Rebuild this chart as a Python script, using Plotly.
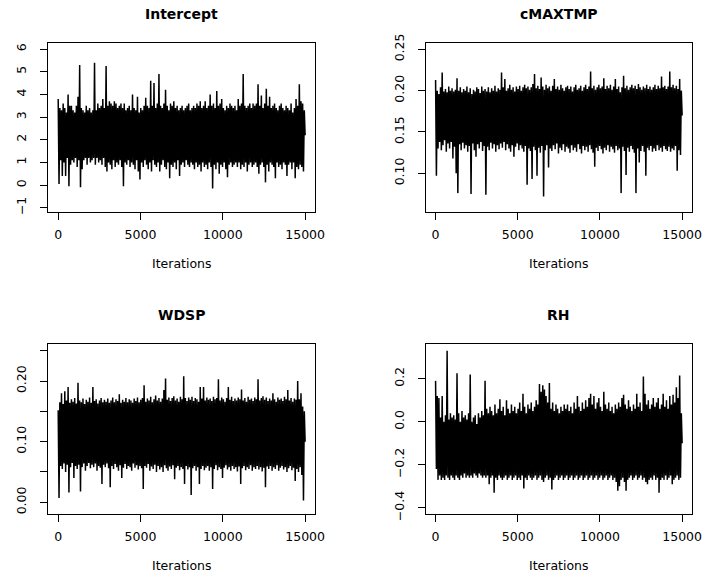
import numpy as np
import plotly.graph_objects as go

# ---------------- data (thinned to 300 draws) ----------------
titles = ["Intercept", "cMAXTMP", "WDSP", "RH"]
x_label = "Iterations"
n_iter = 15000
x_ticks = [0, 5000, 10000, 15000]

intercept = [
    3.8, 0.05, 3.4, 1.1, 3.3, 0.4, 3.6, 1.0, 3.4, 0.4, 3.2, 1.2, 4.0, -0.05, 3.5, 0.9, 3.5, 1.1, 3.3, 1.0,
    3.2, 1.2, 3.5, 0.8, 3.9, 1.1, 5.3, -0.1, 3.4, 0.7, 3.3, 1.1, 3.2, 1.2, 3.5, 0.9, 3.3, 1.2, 3.4, 1.0,
    3.2, 1.1, 3.3, 1.2, 5.4, 0.9, 3.3, 1.2, 3.6, 1.0, 3.4, 1.1, 3.5, 0.9, 3.8, 1.2, 3.4, 0.8, 5.25, 0.6,
    3.5, 1.0, 3.7, 0.9, 3.6, 0.7, 3.5, 1.1, 3.7, 0.8, 3.6, 1.0, 3.4, 0.9, 3.5, 1.1, 3.6, 0.8, 3.4, -0.05,
    3.6, 1.0, 3.3, 0.9, 3.4, 1.1, 3.5, 0.8, 3.3, 1.0, 4.0, 0.9, 3.4, 0.7, 3.3, 1.1, 3.9, 0.6, 3.2, 0.25,
    3.4, 1.0, 3.3, 0.8, 3.5, 1.1, 3.85, 0.9, 3.5, 0.7, 3.4, 1.0, 4.6, 0.6, 3.5, 1.1, 4.5, 0.9, 3.4, 0.8,
    3.6, 1.0, 4.9, 0.6, 3.5, 0.9, 3.4, 1.1, 3.6, 0.8, 4.2, 0.7, 3.5, 1.0, 3.3, 0.3, 3.6, 0.9, 3.5, 0.8,
    3.7, 1.0, 3.4, 0.7, 3.5, 1.1, 3.3, 0.4, 3.4, 0.9, 3.5, 1.0, 3.3, 0.8, 3.4, 1.1, 3.5, 0.9, 3.6, 0.8,
    3.3, 1.0, 3.4, 0.9, 3.5, 0.7, 3.4, 1.0, 3.6, 0.8, 3.5, 0.9, 3.7, 0.6, 3.4, 1.0, 3.5, 0.8, 3.7, 0.9,
    3.4, 0.7, 3.5, 1.0, 4.0, 0.8, 3.5, -0.15, 3.6, 0.9, 3.4, 0.7, 4.15, 1.0, 3.5, 0.5, 3.6, 0.9, 3.8, 0.8,
    3.4, 1.0, 3.3, 0.7, 3.5, 0.35, 3.4, 0.9, 3.6, 1.0, 3.5, 0.8, 3.4, 0.9, 3.5, 1.0, 3.3, 0.8, 3.8, 1.0,
    3.5, 0.7, 3.6, 0.9, 4.9, 0.8, 3.5, 1.0, 3.4, 0.6, 3.5, 0.9, 3.6, 1.0, 3.4, 0.8, 3.6, 0.9, 3.5, 1.0,
    3.6, 0.8, 4.45, 0.5, 3.5, 0.9, 3.95, 1.0, 3.4, 0.8, 3.6, 0.12, 4.25, 0.9, 3.5, 0.6, 3.9, 1.0, 3.4, 0.9,
    3.5, 0.8, 3.6, 0.3, 3.4, 1.0, 3.3, 0.8, 3.5, 0.9, 3.6, 0.7, 3.4, 1.0, 3.3, 0.9, 3.5, 0.4, 3.4, 0.9,
    3.3, 1.0, 3.6, 0.7, 3.2, 1.0, 3.4, 0.3, 3.8, 0.8, 3.5, 0.7, 4.45, 0.9, 3.7, 0.8, 3.6, 0.6, 3.3, 2.2,
]

cmaxtmp = [
    .213, .097, .200, .130, .196, .138, .204, .128, .222, .134, .199, .140, .202, .126, .198, .136, .205, .130, .200, .138,
    .203, .118, .199, .132, .201, .100, .215, .076, .200, .135, .204, .128, .198, .137, .202, .130, .200, .134, .205, .126,
    .198, .133, .203, .075, .196, .136, .201, .128, .199, .120, .204, .135, .202, .130, .197, .138, .205, .127, .200, .133,
    .202, .074, .199, .132, .204, .128, .198, .137, .203, .130, .200, .135, .206, .126, .199, .134, .203, .129, .201, .136,
    .222, .131, .204, .138, .214, .128, .200, .135, .203, .130, .207, .126, .201, .134, .204, .120, .199, .132, .205, .136,
    .202, .128, .206, .134, .200, .130, .204, .126, .207, .133, .203, .086, .205, .130, .201, .127, .204, .093, .208, .132,
    .220, .128, .203, .097, .206, .131, .202, .125, .216, .133, .205, .072, .201, .128, .207, .134, .203, .107, .205, .130,
    .200, .127, .206, .134, .214, .129, .202, .136, .205, .124, .201, .131, .207, .128, .203, .135, .200, .126, .204, .132,
    .206, .130, .202, .125, .205, .134, .199, .128, .204, .131, .207, .126, .201, .135, .203, .129, .206, .124, .200, .133,
    .204, .128, .207, .132, .202, .126, .205, .134, .223, .129, .203, .125, .206, .108, .201, .131, .204, .127, .207, .133,
    .203, .129, .205, .124, .215, .131, .202, .128, .206, .134, .203, .126, .207, .132, .201, .129, .205, .125, .214, .133,
    .202, .128, .205, .130, .198, .076, .204, .132, .218, .127, .203, .098, .206, .131, .201, .126, .204, .133, .207, .129,
    .203, .125, .206, .076, .202, .130, .208, .113, .204, .127, .201, .133, .205, .126, .203, .097, .207, .131, .202, .128,
    .205, .133, .201, .126, .204, .130, .207, .127, .202, .134, .206, .128, .203, .131, .217, .126, .204, .133, .206, .129,
    .202, .127, .205, .132, .223, .126, .204, .130, .207, .128, .203, .133, .206, .103, .202, .128, .214, .122, .200, .170,
]

wdsp = [
    .152, .007, .165, .060, .180, .055, .162, .064, .183, .050, .168, .062, .190, .016, .164, .058, .170, .065, .166, .040,
    .172, .060, .163, .055, .197, .062, .168, .018, .165, .058, .171, .064, .162, .052, .169, .060, .166, .065, .173, .056,
    .164, .062, .190, .058, .167, .064, .170, .052, .163, .060, .168, .057, .172, .030, .165, .062, .169, .058, .166, .064,
    .171, .056, .164, .025, .168, .060, .173, .055, .165, .063, .170, .058, .167, .052, .178, .061, .164, .040, .169, .057,
    .166, .063, .172, .055, .165, .060, .170, .058, .168, .052, .164, .064, .171, .057, .167, .061, .173, .054, .165, .060,
    .169, .056, .172, .022, .193, .060, .166, .057, .171, .063, .168, .052, .174, .059, .165, .055, .170, .062, .176, .050,
    .168, .060, .172, .054, .166, .058, .171, .050, .185, .061, .204, .056, .169, .052, .173, .059, .167, .055, .172, .061,
    .175, .038, .168, .057, .171, .060, .166, .053, .174, .058, .170, .055, .208, .030, .172, .060, .167, .054, .173, .058,
    .169, .012, .174, .056, .167, .060, .172, .052, .170, .058, .166, .030, .190, .055, .171, .060, .190, .053, .168, .057,
    .173, .060, .169, .052, .171, .058, .167, .022, .174, .055, .170, .061, .172, .053, .203, .058, .168, .055, .173, .040,
    .170, .057, .166, .061, .172, .054, .190, .058, .169, .052, .174, .060, .167, .055, .171, .058, .168, .051, .173, .059,
    .170, .030, .186, .056, .168, .060, .172, .053, .166, .058, .174, .055, .169, .061, .171, .052, .167, .058, .173, .055,
    .170, .060, .203, .054, .168, .058, .172, .051, .175, .057, .169, .025, .173, .059, .167, .055, .171, .060, .168, .052,
    .180, .058, .170, .055, .166, .061, .173, .052, .169, .057, .171, .060, .167, .054, .174, .058, .170, .050, .185, .056,
    .168, .060, .172, .053, .166, .057, .171, .035, .169, .055, .200, .050, .170, .058, .180, .045, .158, .003, .150, .100,
]

rh = [
    .19, -.22, .12, -.27, .11, -.25, .02, -.27, .12, -.26, .00, -.27, .03, -.25, .33, -.26, .01, -.27, .04, -.25,
    .02, -.26, .03, -.27, .01, -.25, .225, -.26, .04, -.27, .00, -.25, .05, -.26, .02, -.24, .03, -.26, .01, -.25,
    .04, -.26, .22, -.25, .00, -.26, .02, -.24, .03, -.25, -.01, -.26, .04, -.24, .02, -.25, .05, -.26, .03, -.25,
    .19, -.26, .06, -.25, .04, -.29, .07, -.26, .05, -.25, .03, -.33, .08, -.26, .04, -.27, .06, -.25, .105, -.26,
    .05, -.27, .07, -.26, .03, -.25, .10, -.27, .06, -.26, .04, -.25, .08, -.27, .05, -.26, .07, -.25, .04, -.27,
    .06, -.26, .09, -.27, .05, -.25, .13, -.31, .07, -.26, .04, -.27, .08, -.25, .06, -.26, .09, -.27, .05, -.26,
    .07, -.25, .10, -.27, .08, -.26, .175, -.25, .14, -.27, .17, -.28, .15, -.26, .12, -.25, .09, -.27, .18, -.26,
    .06, -.315, .09, -.27, .05, -.26, .08, -.25, .06, -.27, .04, -.26, .07, -.25, .05, -.27, .08, -.26, .06, -.25,
    .08, -.27, .05, -.26, .07, -.25, .04, -.27, .09, -.26, .06, -.25, .12, -.27, .07, -.26, .05, -.25, .09, -.27,
    .06, -.26, .10, -.25, .07, -.27, .11, -.26, .13, -.25, .08, -.27, .12, -.26, .06, -.25, .09, -.27, .11, -.26,
    .07, -.25, .05, -.27, .14, -.26, .08, -.25, .06, -.27, .09, -.26, .05, -.25, .07, -.27, .04, -.26, .08, -.28,
    .06, -.32, .09, -.30, .07, -.27, .11, -.26, .125, -.28, .08, -.32, .06, -.27, .10, -.26, .07, -.25, .05, -.27,
    .08, -.26, .06, -.25, .13, -.27, .07, -.26, .09, -.25, .05, -.27, .21, -.26, .13, -.28, .08, -.29, .10, -.27,
    .06, -.26, .08, -.27, .11, -.25, .07, -.27, .09, -.26, .11, -.33, .06, -.27, .08, -.26, .13, -.27, .07, -.25,
    .10, -.27, .06, -.26, .12, -.25, .08, -.29, .125, -.27, .09, -.26, .16, -.25, .11, -.27, .215, -.26, .04, -.10,
]

series = [intercept, cmaxtmp, wdsp, rh]
y_tickvals = [
    [-1, 0, 1, 2, 3, 4, 5, 6],
    [0.10, 0.15, 0.20, 0.25],
    [0.00, 0.05, 0.10, 0.15, 0.20, 0.25],
    [-0.4, -0.2, 0.0, 0.2],
]
y_ticktext = [
    ["\u22121", "0", "1", "2", "3", "4", "5", "6"],
    ["0.10", "0.15", "0.20", "0.25"],
    ["0.00", "", "0.10", "", "0.20", ""],
    ["\u22120.4", "\u22120.2", "0.0", "0.2"],
]
y_ranges = [[-1.2, 6.28], [0.0528, 0.258], [-0.0198, 0.2606], [-0.43, 0.36]]

# ---------------- layout geometry (pixels) ----------------
W, H = 703, 574
cols = [(48.3, 315.0), (425.7, 692.0)]
rows = [(42.7, 212.3), (344.3, 514.3)]

FONT = "DejaVu Sans"
fig = go.Figure()

for k in range(4):
    r, c = divmod(k, 2)
    x0, x1 = cols[c]
    y0, y1 = rows[r]
    xa = "x" if k == 0 else f"x{k+1}"
    ya = "y" if k == 0 else f"y{k+1}"
    iterations = np.linspace(1, n_iter, len(series[k]))
    fig.add_trace(go.Scatter(
        x=iterations, y=series[k], mode="lines",
        line=dict(color="black", width=1.5, simplify=False),
        xaxis=xa, yaxis=ya, showlegend=False, hoverinfo="skip",
    ))
    axis_common = dict(
        showgrid=False, zeroline=False, showline=True, mirror=True,
        linecolor="black", linewidth=1, ticks="outside", ticklen=7,
        tickwidth=1, tickcolor="black", automargin=False,
        tickfont=dict(family=FONT, size=12.5, color="black"),
    )
    fig.layout[("xaxis" if k == 0 else f"xaxis{k+1}")] = dict(
        axis_common, domain=[x0 / W, x1 / W], range=[-600, 15600],
        tickmode="array", tickvals=x_ticks, ticktext=[str(v) for v in x_ticks],
        anchor=ya, ticklabelstandoff=4,
    )
    fig.layout[("yaxis" if k == 0 else f"yaxis{k+1}")] = dict(
        axis_common, domain=[1 - y1 / H, 1 - y0 / H], range=y_ranges[k],
        tickmode="array", tickvals=y_tickvals[k], ticktext=y_ticktext[k],
        tickangle=-90, anchor=xa, ticklabelstandoff=9,
    )
    fig.add_annotation(
        x=(x0 + x1) / 2 / W, y=1 - (y0 - 29) / H, xref="paper", yref="paper",
        text=f"<b>{titles[k]}</b>", showarrow=False,
        font=dict(family=FONT, size=14, color="black"),
        xanchor="center", yanchor="middle",
    )
    fig.add_annotation(
        x=(x0 + x1) / 2 / W, y=1 - (y1 + 51) / H, xref="paper", yref="paper",
        text=x_label, showarrow=False,
        font=dict(family=FONT, size=12.5, color="black"),
        xanchor="center", yanchor="middle",
    )

fig.update_layout(
    width=W, height=H, margin=dict(l=0, r=0, t=0, b=0, pad=0, autoexpand=False),
    paper_bgcolor="white", plot_bgcolor="white",
)
fig.write_html(
    "out.html", config={"responsive": False, "displayModeBar": False},
    post_script="document.body.style.margin='0px';document.body.style.overflow='hidden';",
)
